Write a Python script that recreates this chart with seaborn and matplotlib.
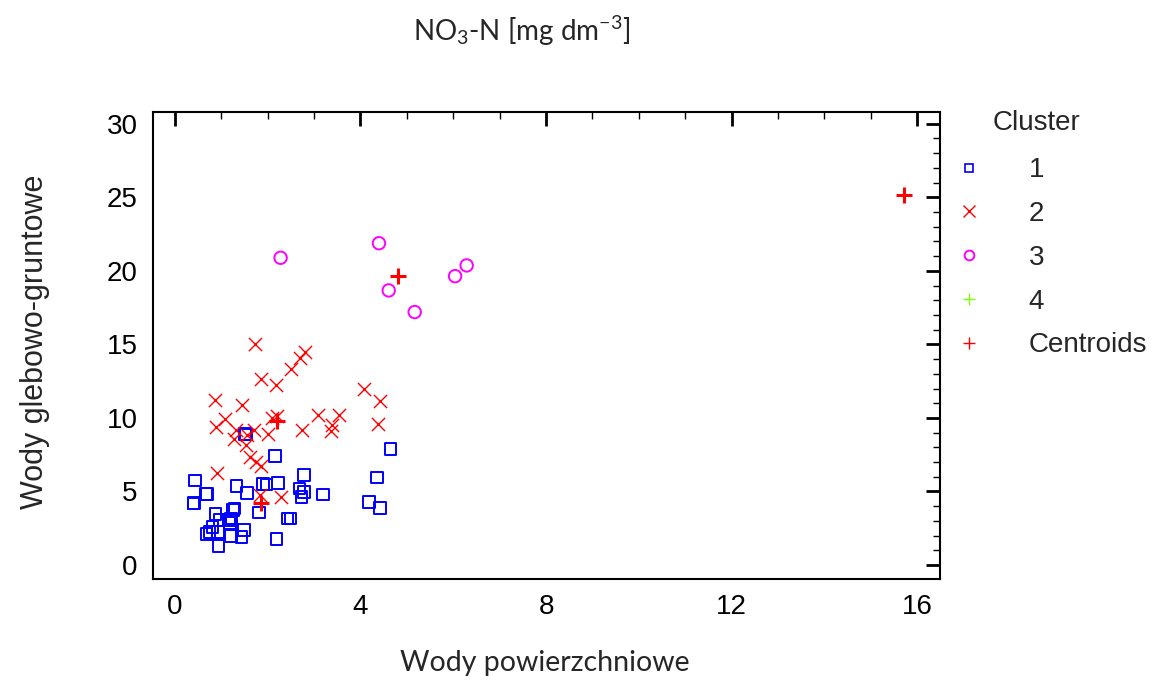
import numpy as np
import pandas as pd
import matplotlib
matplotlib.use("Agg")
import matplotlib.pyplot as plt
from matplotlib.lines import Line2D
from matplotlib.ticker import MultipleLocator
import seaborn as sns

# Data ------------------------------------------------------------------
c1_x = [1.54, 1.51, 4.65, 2.16, 2.79, 4.36, 0.44, 1.33, 1.90, 1.98, 2.23,
        0.67, 0.70, 1.56, 2.69, 2.78, 2.73, 3.20, 4.19, 4.42, 0.40, 0.42,
        1.81, 1.26, 1.29, 0.88, 1.17, 1.21, 1.19, 0.97, 2.43, 2.49, 0.81,
        0.93, 0.75, 0.68, 1.21, 1.44, 1.49, 2.19, 0.94]
c1_y = [8.87, 8.90, 7.87, 7.42, 6.11, 5.95, 5.75, 5.38, 5.50, 5.48, 5.59,
        4.82, 4.85, 4.91, 5.21, 4.98, 4.64, 4.80, 4.30, 3.89, 4.19, 4.22,
        3.58, 3.73, 3.85, 3.46, 3.05, 3.17, 2.87, 3.05, 3.17, 3.17, 2.60,
        2.26, 2.26, 2.10, 1.99, 1.92, 2.38, 1.77, 1.31]

c2_x = [1.73, 2.70, 2.80, 2.50, 1.85, 2.17, 4.07, 4.43, 0.87, 1.44, 1.08,
        0.88, 1.31, 1.28, 1.54, 1.70, 2.01, 2.10, 2.20, 2.75, 3.09, 3.54,
        3.38, 3.36, 4.38, 1.62, 1.76, 1.85, 0.90, 1.83, 2.28, 1.55]
c2_y = [15.05, 14.10, 14.45, 13.35, 12.67, 12.22, 12.00, 11.13, 11.20, 10.88,
        9.96, 9.39, 9.21, 8.60, 8.15, 9.17, 8.89, 10.00, 10.10, 9.21, 10.23,
        10.18, 9.50, 9.10, 9.57, 7.35, 7.01, 6.72, 6.29, 4.75, 4.64, 8.85]

c3_x = [2.28, 4.40, 6.29, 6.04, 4.61, 5.17]
c3_y = [20.89, 21.88, 20.37, 19.64, 18.67, 17.20]

c4_x = []
c4_y = []

cent_x = [1.85, 2.21, 4.82, 15.72]
cent_y = [4.23, 9.80, 19.67, 25.14]

legend_labels = ["1", "2", "3", "4", "Centroids"]

# Plot --------------------------------------------------------------------
sns.set_style("white")
plt.rcParams["font.family"] = ["Liberation Sans", "DejaVu Sans"]
plt.rcParams["mathtext.default"] = "regular"

fig = plt.figure(figsize=(11.6, 6.8), dpi=100)
ax = fig.add_axes([0.1319, 0.1485, 0.8103 - 0.1319, 0.8353 - 0.1485])

blue, red, pink, green = "#0000ff", "#ff0000", "#ff00ff", "#7fff00"

sns.scatterplot(x=c1_x, y=c1_y, marker="s", s=70, facecolor="none",
                edgecolor=blue, linewidth=1.4, ax=ax, zorder=3)
sns.scatterplot(x=c2_x, y=c2_y, marker="x", s=90, color=red,
                linewidth=1.0, ax=ax, zorder=3)
sns.scatterplot(x=c3_x, y=c3_y, marker="o", s=80, facecolor="none",
                edgecolor=pink, linewidth=1.4, ax=ax, zorder=3)
if len(c4_x):
    sns.scatterplot(x=c4_x, y=c4_y, marker="+", s=80, color=green, ax=ax)
sns.scatterplot(x=cent_x, y=cent_y, marker="+", s=130, color=red,
                linewidth=2.2, ax=ax, zorder=4)

ax.set_xlim(-0.47, 16.49)
ax.set_ylim(-0.95, 30.8)
ax.xaxis.set_major_locator(MultipleLocator(4))
ax.xaxis.set_minor_locator(MultipleLocator(1))
ax.yaxis.set_major_locator(MultipleLocator(5))
ax.yaxis.set_minor_locator(MultipleLocator(1))
ax.tick_params(which="both", direction="in", top=True, right=True,
               labelsize=20, colors="black")
ax.tick_params(which="major", length=10, width=2, pad=11)
ax.tick_params(which="minor", length=5, width=1)
for sp in ax.spines.values():
    sp.set_visible(True)
    sp.set_color("black")
    sp.set_linewidth(1.5)

fig.text(0.470, 0.025, "Wody powierzchniowe", fontsize=20.5,
         family=["Lato", "DejaVu Sans"], ha="center", va="center")
fig.text(0.030, 0.497, "Wody glebowo-gruntowe", fontsize=22, rotation=90,
         ha="center", va="center")
fig.text(0.450, 0.955, r"NO$_3$-N [mg dm$^{-3}$]", fontsize=20,
         family=["Lato", "DejaVu Sans"], ha="center", va="center")

# legend: title placed by hand so it sits like the original
fig.text(993 / 1160, 1 - 123 / 680, "Cluster", fontsize=20,
         ha="left", va="center")
handles = [
    Line2D([], [], marker="s", ls="", ms=6, mfc="none", mec=blue, mew=1.2),
    Line2D([], [], marker="x", ls="", ms=8, color=red, mew=1.0),
    Line2D([], [], marker="o", ls="", ms=7, mfc="none", mec=pink, mew=1.4),
    Line2D([], [], marker="+", ls="", ms=9, color=green, mew=1.0),
    Line2D([], [], marker="+", ls="", ms=9, color=red, mew=1.0),
]
leg = ax.legend(handles, legend_labels, loc="upper left",
                bbox_to_anchor=(0.8077, 0.785), bbox_transform=fig.transFigure,
                frameon=False, fontsize=20,
                handlelength=1.5, handletextpad=1.4, labelspacing=0.64,
                borderaxespad=0)

fig.savefig("out.png", dpi=100)
